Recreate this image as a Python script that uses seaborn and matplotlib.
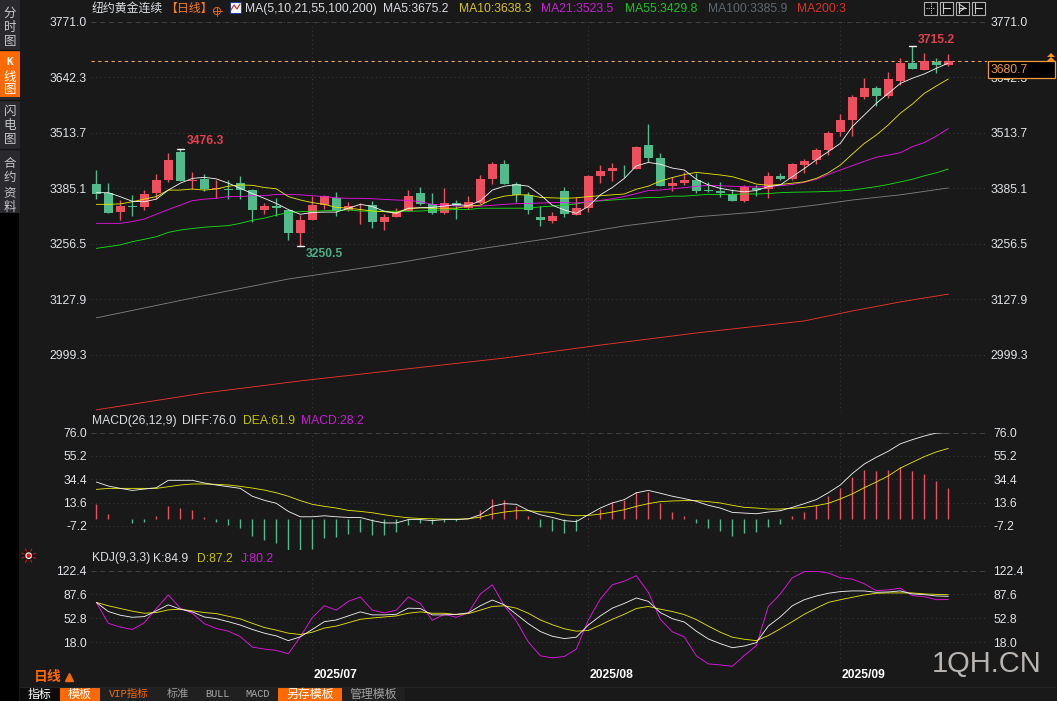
import numpy as np
import pandas as pd
import matplotlib
matplotlib.use("Agg")
import matplotlib.pyplot as plt
from matplotlib.patches import Rectangle, Circle, Polygon
import seaborn as sns

# ── data ────────────────────────────────────────────────────
opens = [3395,3375,3330,3345,3342,3375,3403.5,3469,3403,3407,3383,3383.5,3397.4,3381,3335,3344,3336,3282,3312,3346,3363,3336,3343,3346,3307,3319,3332.5,3374,3349,3328,3351,3339.5,3351,3407,3441,3395,3370,3319,3309,3379,3323,3339.5,3414,3425,3433,3430,3485,3455,3390,3397,3404,3381,3379,3373,3356,3386.5,3383,3414,3407,3439,3450.6,3474,3515.5,3543,3596.5,3617,3599,3634,3675,3659,3678,3671]
highs = [3427.5,3397.4,3358,3369.6,3381,3418,3467,3476.3,3423,3418,3404,3404,3414,3383.5,3351,3363,3336,3323,3368,3369,3377,3353,3350,3356,3326,3339.5,3381,3388,3374,3386,3358,3367,3416,3446,3451,3400,3376.5,3344,3330,3388,3365,3416,3439,3444,3439,3483,3534,3467,3411,3423,3421,3400,3400,3383.5,3393,3393,3423,3420,3444,3453,3478,3518,3557,3601,3640.5,3622,3654,3687,3715.2,3698,3687,3696]
lows = [3361,3328.6,3311.7,3321.7,3335,3360,3399,3401,3383,3380,3362,3360,3361,3308,3326,3322,3266,3250.5,3312,3337,3322,3333,3302,3293,3288.5,3319,3332.5,3346,3326,3326,3314,3337,3349,3395,3395,3353,3326,3298,3305,3319,3323,3330,3397,3402,3411,3430,3446,3390,3379,3393,3374,3377,3366,3356,3354,3368,3363,3404,3404,3420,3441,3462,3506,3506,3592,3576,3594,3624,3661,3659,3652,3668]
closes = [3372.6,3328.6,3344,3342.5,3372,3403.5,3450.6,3401,3405,3383,3385,3381,3381,3335,3344,3340,3282,3311.7,3346,3367,3333,3344,3345,3307,3319,3330,3367,3349,3328,3351,3343,3353,3407,3441,3395,3370,3335,3312,3321,3326,3339.5,3414,3425,3432,3431,3481,3455,3390,3397,3404,3379,3378,3375,3356,3387,3382,3414,3407,3441,3448,3474,3513,3543,3596.5,3617,3599,3638,3675,3661,3679,3671,3680.7]

ma5 = [3375,3375,3365.7,3355,3354,3360,3381,3397,3408,3410.5,3407,3397,3385,3373,3362,3350,3336,3325,3329,3330,3330,3339,3348,3343,3332,3327,3339,3340,3341,3344,3348,3345,3356,3381,3390,3393.5,3390,3370,3346,3335,3327,3343,3370,3387,3408,3437,3445,3441,3432,3427.5,3406,3393,3385,3380,3377,3380,3389,3393,3412,3431,3451,3470,3489,3528,3555,3582,3605,3628,3640,3650,3663,3675.2]
ma10 = [3348,3348,3349,3354,3360,3366,3381,3381,3383.5,3381,3383.5,3390,3393,3392,3387,3384,3366,3358,3352,3348,3341,3339,3336,3332.5,3331,3329,3338,3340,3339,3339,3339,3344,3346,3360,3367,3370,3370,3364,3363,3362,3363,3366,3368,3370,3372,3383,3390,3402,3410,3417,3422,3419,3416,3412,3404,3395,3392,3394,3397,3400,3408,3421,3439,3464.5,3489,3508.5,3532,3559,3580,3605,3622,3638.3]
ma21 = [3304,3304,3304,3308,3314,3325,3336,3346,3356.5,3360,3362,3366,3366,3368,3368,3371,3371,3370,3368,3366,3363,3362,3362,3361,3359.5,3358,3357,3354,3348,3346,3344,3344,3344,3345.6,3348,3349.5,3350,3351,3352,3352,3351,3354,3357,3361,3366,3373,3380,3381,3384,3386.6,3389.7,3392,3391,3389.7,3389,3388,3389.7,3391,3394,3399,3406,3417,3427.5,3437.5,3447.6,3457,3462,3467.6,3481.5,3491,3506,3523.5]
ma55 = [3246,3250,3254,3261.5,3267,3273,3283,3288.5,3292,3295,3297,3298.6,3304,3311,3316,3323,3329,3331,3332,3333,3334,3335,3332.5,3332,3332,3332,3332,3332.5,3334,3335,3336,3336,3339,3339,3339,3339,3339,3342,3344,3346,3349,3354,3356,3358,3360,3362,3364,3364,3367,3367,3369,3371,3371,3371,3372,3372,3373,3375,3376,3376.5,3377,3378,3379,3381,3385,3389,3394,3400,3406,3414,3421,3429.8]
ma100_idx = [0,8,16,25,32,38,44,50,55,60,63,67,71]
ma100 = [3085,3131,3175,3212,3245,3270,3298,3319,3330,3346.5,3358,3370,3385.9]
ma200_idx = [0,9,17,25,34,42,50,59,63,67,71]
ma200 = [2872,2911,2939,2964,2992,3022,3050,3078,3101,3122,3140]

diff = [32.0,28.4,26.3,24.5,25.7,26.9,33.5,33.5,33.5,31.1,29.3,27.8,26.3,19.3,15.7,13,5.8,1,1,1.9,1,0.4,0.4,-2.4,-4.5,-4.5,-1.5,-1.5,-2.4,-1.5,-1.5,-0.9,2.8,10.3,12.7,12.1,6.7,2.8,0.4,-2.4,-3.3,2.8,8.8,13.3,16.3,22.4,24.5,22,19.3,17.2,14.8,11.2,8.8,4.9,4.3,3.7,5.2,6.4,9.4,12.7,16.3,22.4,29.3,39.5,48,54,59.4,66,69.7,73,75.6,76]
dea = [25.4,26.3,26.3,26.3,26.3,26.3,27.8,29.3,30.2,30.2,29.9,29.3,28.1,26.6,24.8,22.4,19.3,15.4,12.1,10.3,8.8,6.7,5.8,4.6,2.8,1.3,0.1,-0.5,-0.8,-1.1,-1.1,-0.8,0.7,3.4,5.2,6.4,6.4,5.5,4.9,2.8,1.9,2.2,3.4,5.2,7.3,10.3,12.7,14.5,15.1,15.4,15.4,14.5,13.3,11.2,9.4,8.8,7.9,7.9,8.5,9.4,10.9,13,16.9,21.4,26.9,32,37.4,44.4,49.5,54.6,58.8,61.9]
macd_bars = [13.3,4.5,0.6,-3,-2.1,3.3,11.5,9.6,7.8,2.4,-2.1,-4.8,-7.5,-14.8,-18.4,-21.1,-27.4,-27.4,-26.5,-16.6,-15.7,-13,-11.2,-13.9,-13.9,-11.2,-4.8,-3,-3.9,-2.1,-1.5,0.3,8.4,17.8,16.9,11.5,3.3,-6.6,-10.2,-12,-10.2,1.5,9.3,15,16.9,24,24,14.2,6.9,3.3,-3,-7.5,-10.2,-14.8,-12,-11.2,-6.6,-3.9,3.3,6.9,12.4,20.5,27.7,37.7,44,43.1,44,46.7,43.1,40.4,34,28.2]

k_line = [76.1,62.8,57.4,54.4,55.4,63.8,72.6,66.2,62.3,54.9,52.4,48,43.1,36.7,31.3,27.3,20.4,25.9,36.7,48,50.5,56.4,62.3,57.9,57.9,58.8,67.7,67.2,57.9,57.9,58.8,60.8,71.2,79.5,72.6,58.8,45.1,33.7,26.8,23.4,25.4,43.1,56.4,67.7,74.6,82.5,77.6,61.3,52.4,47.5,34.2,22.9,16,10.1,12.6,17.5,41.6,54.9,71.2,80,85.4,89.4,91.8,92.8,92.8,90.8,91.3,92.8,88.4,87.4,85.5,84.9]
d_line = [76.1,71.2,67.2,63.3,60.3,61.3,65.2,66.2,63.8,61.3,59.8,55.9,52,45.6,39.6,35.7,31.3,29.3,32.7,38.7,41.6,46.5,51.5,53.4,54.9,56.4,60.3,62.3,60.3,60.3,58.3,59.8,64.8,70.2,71.2,67.7,60.3,50.5,43.6,37.7,34.2,35.2,43.1,51.5,58.8,67.2,70.2,66.2,62.8,58.3,51,41.6,32.7,25.4,22.4,20.4,27.8,37.7,48,58.8,67.7,76.1,80,83.5,86.9,89.4,89.9,89.9,89.9,88.4,87.8,87.2]
j_line = [76.1,45.6,40.1,36.7,46.5,67.2,86.9,67.7,60.3,45.1,38.2,34.2,26.3,11.1,8.1,6.2,1.2,25.9,53.9,71.2,64.8,77.6,84,64.8,60.8,64.8,84,74.6,50,58.8,54.4,60.8,88.4,101.7,71.2,49,18.5,-1.7,-4.7,-2.7,8.1,50.5,81,101.7,107.1,115,90.8,51.5,33.2,25.9,-1.7,-13.5,-15,-17,-1.2,13,70.2,88.4,112,120.9,121.4,118.9,112,110,103.2,93.3,94.3,96.8,85.9,84.4,80,80.2]

price_ticks = [3771.0, 3642.3, 3513.7, 3385.1, 3256.5, 3127.9, 2999.3]
macd_ticks = [76.0, 55.2, 34.4, 13.6, -7.2]
kdj_ticks = [122.4, 87.6, 52.8, 18.0]
month_idx = [18, 41, 62]
month_labels = ["2025/07", "2025/08", "2025/09"]
last_price = 3680.7
macd_zero = -1.2

# ── colours ─────────────────────────────────────────────────
BG = "#191919"
GRID = "#3d3d3d"
RED = "#ee4f5f"
GREEN = "#52bb8b"
ORANGE = "#ff6a00"
C_WHITE = "#f2f2f2"
C_YEL = "#e6e600"
C_MAG = "#e915e9"
C_GRN = "#16e016"
C_GRY = "#7f7f7f"
C_RED = "#f0352d"
LABEL = "#dfe3e8"

W, H = 1057, 701
sns.set_theme(style="dark", rc={"figure.facecolor": BG, "axes.facecolor": BG,
                                "savefig.facecolor": BG, "axes.edgecolor": BG})
plt.rcParams["font.family"] = ["Liberation Sans", "Noto Sans CJK SC", "DejaVu Sans"]
CJK = ["Noto Sans CJK SC", "DejaVu Sans"]

fig = plt.figure(figsize=(W / 100, H / 100), dpi=100)


def panel(y_top, y_bottom, x0=91, x1=987):
    ax = fig.add_axes([x0 / W, 1 - y_bottom / H, (x1 - x0) / W, (y_bottom - y_top) / H])
    ax.set_xlim((x0 - 96.3) / 12, (x1 - 96.3) / 12)
    for s in ax.spines.values():
        s.set_visible(False)
    return ax


def style_panel(ax, ticks, fmt, pad_right):
    ax.set_yticks(ticks)
    ax.set_yticklabels([fmt % t for t in ticks])
    ax.set_xticks(month_idx)
    ax.tick_params(axis="y", length=0, labelleft=True, labelright=True, labelsize=8.7,
                   labelcolor=LABEL)
    ax.yaxis.set_tick_params(pad=2.9)
    for t in ax.yaxis.get_major_ticks():
        t.label2.set_horizontalalignment("left")
        t.label2.set_x(1 + pad_right / ax.bbox.width)
    ax.tick_params(axis="x", length=0, labelbottom=False)
    ax.grid(True, axis="both", color=GRID, lw=0.7, linestyle=(0, (1, 3.5)))
    ax.axhline(ticks[0], color="#3f3f3f", lw=0.8, linestyle=(0, (4, 4)), zorder=1)
    ax.set_xlabel("")
    ax.set_ylabel("")


def line(ax, x, y, color, lw=0.62):
    sns.lineplot(x=x, y=y, ax=ax, color=color, lw=lw, estimator=None, errorbar=None,
                 legend=False, sort=False, zorder=5)


# ── price panel ─────────────────────────────────────────────
ax_p = panel(21.7, 412)
ax_p.set_ylim(2867, 3771)
df = pd.DataFrame({"o": opens, "h": highs, "l": lows, "c": closes})
df["x"] = np.arange(len(df))
df["col"] = np.where(df["c"] >= df["o"], RED, GREEN)
ax_p.vlines(df["x"], df["l"], df["h"], colors=df["col"], lw=1.0, zorder=3)
ax_p.bar(df["x"], (df["c"] - df["o"]).abs(), bottom=df[["o", "c"]].min(axis=1),
         width=0.75, color=df["col"], linewidth=0, zorder=4)
idx = df["x"].values
for vals, col in [(ma55, C_GRN), (ma21, C_MAG), (ma10, C_YEL), (ma5, C_WHITE)]:
    line(ax_p, idx, vals, col)
line(ax_p, ma100_idx, ma100, C_GRY)
line(ax_p, ma200_idx, ma200, C_RED)
style_panel(ax_p, price_ticks, "%.1f", -0.3)
ax_p.axhline(last_price, color="#e8a656", lw=0.8, linestyle=(0, (3, 3)), zorder=2)

# high / low markers
hi_a, lo_a, hi_b = int(np.argmax(highs[:30])), int(np.argmin(lows)), int(np.argmax(highs))
for i, v, s, col, off in [(hi_a, highs[hi_a], "3476.3", "#e0404f", (6, 8)),
                          (lo_a, lows[lo_a], "3250.5", "#4fae84", (5, -8)),
                          (hi_b, highs[hi_b], "3715.2", "#e0404f", (5, 6))]:
    ax_p.plot([i - 0.28, i + 0.28], [v, v], color="white", lw=1, zorder=6)
    ax_p.annotate(s, xy=(i, v), xytext=off, textcoords="offset pixels", color=col,
                  fontsize=8.7, fontweight="bold", va="center", ha="left", zorder=7)

# ── MACD panel ──────────────────────────────────────────────
ax_m = panel(432.6, 550)
ax_m.set_ylim(-28.6, 76)
bars = np.array(macd_bars)
ax_m.vlines(idx, macd_zero, macd_zero + bars, colors=np.where(bars >= 0, RED, GREEN), lw=1.0, zorder=3)
line(ax_m, idx, dea, C_YEL)
line(ax_m, idx, diff, C_WHITE)
style_panel(ax_m, macd_ticks, "%.1f", 2.5)

# ── KDJ panel ───────────────────────────────────────────────
ax_k = panel(570.6, 667)
ax_k.set_ylim(-18, 122.4)
line(ax_k, idx, j_line, C_MAG)
line(ax_k, idx, d_line, C_YEL)
line(ax_k, idx, k_line, C_WHITE)
style_panel(ax_k, kdj_ticks, "%.1f", 2.5)

# ── overlay in pixel coordinates for the terminal chrome ────
ov = fig.add_axes([0, 0, 1, 1], zorder=10)
ov.set_xlim(0, W)
ov.set_ylim(H, 0)
ov.axis("off")
ov.patch.set_alpha(0)


def txt(x, y, s, color=LABEL, size=8.7, ha="left", family=None, weight="normal"):
    ov.text(x, y, s, color=color, fontsize=size, ha=ha, va="center", family=family, fontweight=weight)


def box(x0, y0, x1, y1, fc, ec="none", lw=0):
    ov.add_patch(Rectangle((x0, y0), x1 - x0, y1 - y0, fc=fc, ec=ec, lw=lw))


# header row
txt(92, 8.5, "纽约黄金连续", "#d9dde2", 8.6, family=CJK)
txt(165, 8.5, "【日线】", "#ff7a1a", 8.6, family=CJK)
ov.add_patch(Circle((217, 11), 3.6, fc="none", ec="#e0641e", lw=0.7))
ov.plot([212.5, 221.5], [11, 11], color="#e0641e", lw=0.7)
ov.plot([217, 217], [6.5, 15.5], color="#e0641e", lw=0.7)
box(230, 2, 241, 13, "white", "#2040a0", 0.8)
ov.plot([231, 234, 237, 240], [10, 5, 9, 4], color="#d02020", lw=0.8)
txt(245, 9, "MA(5,10,21,55,100,200)", "#d9dde2")
txt(383, 9, "MA5:3675.2", "#d9dde2")
txt(459, 9, "MA10:3638.3", "#d3c41c")
txt(541, 9, "MA21:3523.5", "#c81fd2")
txt(625, 9, "MA55:3429.8", "#22c022")
txt(708, 9, "MA100:3385.9", "#5f6870")
txt(797, 9, "MA200:3", "#d8322c")

# toolbar icons
for bx in [924, 940, 956, 972]:
    box(bx, 1.5, bx + 13, 15, "#101010", "#b0b0b0", 0.8)
ov.plot([926, 935], [8, 8], color="#d0d0d0", lw=0.8, linestyle=(0, (1, 1)))
ov.plot([930.5, 930.5], [3, 13], color="#d0d0d0", lw=0.8, linestyle=(0, (1, 1)))
for bx in [943, 959, 975]:
    ov.plot([bx, bx], [3, 13], color="#d0d0d0", lw=0.8)
    ov.plot([bx, bx + 7], [8, 8], color="#d0d0d0", lw=0.8)
ov.plot([959, 959 + 6, 959], [4, 8, 12], color="#d0d0d0", lw=0.8)

# last price box
box(987.5, 61, 1055, 78, "#000000", "#ef9a3c", 0.9)
txt(990.5, 70, "3680.7", "#ef9a3c", 8.7)
ov.add_patch(Polygon([(1047, 57), (1051, 53), (1055, 57)], fc="#ff9326", ec="none"))
ov.add_patch(Polygon([(1047, 61), (1051, 57), (1055, 61)], fc="#ff9326", ec="none"))

# side tabs
box(0, 0, 19.5, 213, "#29292e")
box(0, 51, 19.5, 97, ORANGE)
box(0, 213, 19, H, "#000000")
for y in [49.5, 99.5, 148.5]:
    ov.plot([0, 19.5], [y, y], color="#141414", lw=1)
for y, s in [(13, "分"), (28, "时"), (41, "图"), (111, "闪"), (125, "电"), (139, "图"),
             (163, "合"), (178, "约"), (193, "资"), (207, "料")]:
    txt(10, y, s, "#c6c8cc", 9, ha="center", family=CJK)
txt(10, 62, "K", "white", 8, ha="center", family="DejaVu Sans Mono", weight="bold")
txt(10, 77, "线", "white", 9, ha="center", family=CJK)
txt(10, 90, "图", "white", 9, ha="center", family=CJK)

# indicator headers
txt(92, 421, "MACD(26,12,9)", "#d9dde2")
txt(182, 421, "DIFF:76.0", "#d9dde2")
txt(243, 421, "DEA:61.9", "#c4c400")
txt(301, 421, "MACD:28.2", "#c81fd2")
txt(92, 558.5, "KDJ(9,3,3)", "#d9dde2")
txt(153, 558.5, "K:84.9", "#d9dde2")
txt(197, 558.5, "D:87.2", "#c4c400")
txt(241, 558.5, "J:80.2", "#c81fd2")

# blink marker
ov.add_patch(Circle((28.7, 555.7), 2.8, fc="#ff0000", ec="white", lw=0.8))
for a in np.deg2rad([200, 245, 295, 340, 20, 160, 115, 65]):
    ov.plot([28.7 + 5 * np.cos(a), 28.7 + 7.5 * np.cos(a)],
            [555.7 + 5 * np.sin(a), 555.7 + 7.5 * np.sin(a)], color="#e01010", lw=0.7)

# time axis
for m, lab in zip(month_idx, month_labels):
    txt(96.3 + 12 * m + 1.8, 675, lab, "white", 8.7, weight="bold")
txt(34, 677, "日线", ORANGE, 10, family=CJK, weight="bold")
ov.plot([69], [677], marker="^", color="#f06a10", ms=6, lw=0)

# watermark
txt(932, 664, "1QH.CN", "#b9b4b0", 21)

# bottom tabs
ov.plot([20, W], [687, 687], color="#242424", lw=0.8)
tabs = [(20, 59.5, "指标", "#0c0c0c", "white", CJK, 8.6),
        (60, 99.5, "模板", ORANGE, "white", CJK, 8.6),
        (100, 157.5, "VIP指标", "#202020", ORANGE, ["Liberation Mono", "Noto Sans CJK SC"], 7.6),
        (158, 197.5, "标准", "#202020", "#9a9a9a", CJK, 8.0),
        (198, 237.5, "BULL", "#202020", "#a8a8a8", "Liberation Mono", 7.4),
        (238, 277.5, "MACD", "#202020", "#a8a8a8", "Liberation Mono", 7.4),
        (278, 341.5, "另存模板", ORANGE, "white", CJK, 8.6),
        (342, 404.5, "管理模板", "#202020", "#a0a0a0", CJK, 8.6)]
for x0, x1, s, fc, tc, fam, fs in tabs:
    box(x0, 688, x1, H, fc)
    txt((x0 + x1) / 2, 694, s, tc, fs, ha="center", family=fam)

fig.savefig("out.png", dpi=100)
